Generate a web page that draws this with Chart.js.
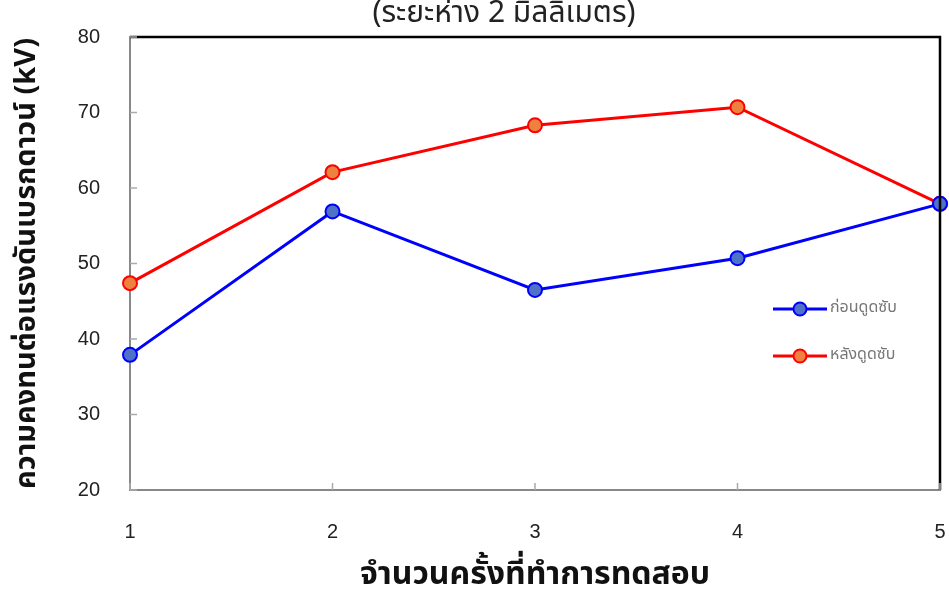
<!DOCTYPE html>
<html><head><meta charset="utf-8">
<script src="https://cdn.jsdelivr.net/npm/chart.js@4/dist/chart.umd.min.js"></script>
<style>html,body{margin:0;padding:0;background:#fff}#wrap{width:949px;height:589px}</style>
</head><body><div id="wrap"><canvas id="c" width="949" height="589"></canvas></div>
<script>
const categories = ['1','2','3','4','5'];
const beforeValues = [37.9, 56.9, 46.5, 50.7, 57.9];
const afterValues = [47.4, 62.1, 68.3, 70.7, 57.9];
const seriesNames = ['ก่อนดูดซับ', 'หลังดูดซับ'];
const yTicks = [20, 30, 40, 50, 60, 70, 80];
const titleText = '(ระยะห่าง 2 มิลลิเมตร)';
const yTitle = 'ความคงทนต่อแรงดันเบรกดาวน์ (kV)';
const xTitle = 'จำนวนครั้งที่ทำการทดสอบ';

const decor = {
  id: 'decor',
  afterDraw(chart) {
    const {ctx, chartArea: a, scales} = chart;
    ctx.save();
    // title
    ctx.fillStyle = '#222';
    ctx.font = '30px "Noto Sans Thai", "Noto Sans", sans-serif';
    ctx.textAlign = 'center';
    ctx.textBaseline = 'alphabetic';
    ctx.fillText(titleText, 504, 22);
    // top/right borders
    ctx.strokeStyle = '#000';
    ctx.lineWidth = 2.5;
    ctx.beginPath();
    ctx.moveTo(a.left, a.top); ctx.lineTo(a.right, a.top); ctx.lineTo(a.right, a.bottom);
    ctx.stroke();
    // inward ticks
    ctx.strokeStyle = '#aaa';
    ctx.lineWidth = 1.5;
    ctx.beginPath();
    scales.y.ticks.forEach(t => {
      const y = scales.y.getPixelForValue(t.value);
      ctx.moveTo(a.left, y); ctx.lineTo(a.left + 7, y);
    });
    scales.x.ticks.forEach((t, i) => {
      const x = scales.x.getPixelForValue(i);
      ctx.moveTo(x, a.bottom); ctx.lineTo(x, a.bottom - 7);
    });
    ctx.stroke();
    // legend
    const items = chart.data.datasets;
    const ys = [309, 356];
    items.forEach((ds, i) => {
      const y = ys[i];
      ctx.strokeStyle = ds.borderColor; ctx.lineWidth = 3;
      ctx.beginPath(); ctx.moveTo(773, y); ctx.lineTo(827, y); ctx.stroke();
      ctx.beginPath(); ctx.arc(800, y, 6.5, 0, Math.PI * 2);
      ctx.fillStyle = ds.pointBackgroundColor; ctx.fill();
      ctx.lineWidth = 2; ctx.strokeStyle = ds.pointBorderColor; ctx.stroke();
      ctx.fillStyle = '#777';
      ctx.font = '16px "Noto Sans Thai", "Noto Sans", sans-serif';
      ctx.textAlign = 'left'; ctx.textBaseline = 'middle';
      ctx.fillText(ds.label, 830, y);
    });
    ctx.restore();
  }
};

new Chart(document.getElementById('c'), {
  type: 'line',
  data: {
    labels: categories,
    datasets: [
      { label: seriesNames[0], data: beforeValues, borderColor: '#0000ff', borderWidth: 3,
        pointBackgroundColor: '#4f72c8', pointBorderColor: '#0000ff', pointBorderWidth: 2, pointRadius: 7, tension: 0, clip: false },
      { label: seriesNames[1], data: afterValues, borderColor: '#ff0000', borderWidth: 3,
        pointBackgroundColor: '#ee8040', pointBorderColor: '#ff0000', pointBorderWidth: 2, pointRadius: 7, tension: 0, clip: false }
    ]
  },
  options: {
    responsive: false, animation: false,
    layout: { padding: { top: 37, right: 7, left: 0, bottom: 0 } },
    plugins: { legend: { display: false }, tooltip: { enabled: false }, title: { display: false } },
    scales: {
      x: {
        offset: false,
        grid: { display: false },
        border: { display: true, color: '#888', width: 2 },
        ticks: { color: '#222', font: { size: 20, family: '"Liberation Sans", Arial, sans-serif' }, padding: 22, maxRotation: 0 },
        title: { display: true, text: xTitle, color: '#111', font: { size: 32, weight: 'bold', family: '"Noto Sans Thai", sans-serif' }, padding: { top: 0, bottom: -8 } },
        afterFit(s) { s.height = 99; s.paddingLeft = 0; s.paddingRight = 0; }
      },
      y: {
        min: 20, max: 80,
        afterBuildTicks(s) { s.ticks = yTicks.map(v => ({ value: v })); },
        grid: { display: false },
        border: { display: true, color: '#888', width: 2 },
        ticks: { color: '#222', font: { size: 20, family: '"Liberation Sans", Arial, sans-serif' }, padding: 22 },
        title: { display: true, text: yTitle, color: '#111', font: { size: 29, weight: 'bold', family: '"Noto Sans Thai", sans-serif' }, padding: { top: 12, bottom: 0 } },
        afterFit(s) { s.width = 130; s.paddingTop = 0; s.paddingBottom = 0; }
      }
    }
  },
  plugins: [decor]
});
</script></body></html>
